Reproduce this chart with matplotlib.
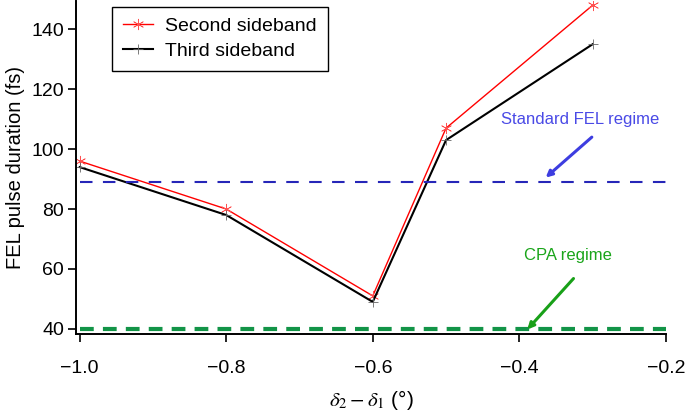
import matplotlib
matplotlib.use('Agg')
from matplotlib import pyplot as plt

plt.rcParams['font.family'] = ['Liberation Sans', 'DejaVu Sans']
plt.rcParams['mathtext.fontset'] = 'stix'

# data
delta_diff = [-1.0, -0.8, -0.6, -0.5, -0.3]
second_sideband = [96, 80, 51, 107, 148]
third_sideband = [94, 78, 49, 103, 135]
standard_fel = 89
cpa_level = 40
xticks = [-1.0, -0.8, -0.6, -0.4, -0.2]
yticks = [40, 60, 80, 100, 120, 140]

fig = plt.figure(figsize=(6.85, 4.19), dpi=100)
ax = fig.add_axes([0.111, 0.203, 0.861, 0.795])

ax.plot(delta_diff, second_sideband, color='red', lw=1.0,
        marker=(6, 2, 0), markersize=8, markeredgewidth=0.5,
        markeredgecolor='#ff5050', label='Second sideband')
ax.plot(delta_diff, third_sideband, color='black', lw=1.5,
        marker='+', markersize=7, markeredgewidth=0.6,
        markeredgecolor='#666666', label='Third sideband')

ax.plot([-1.0, -0.2], [standard_fel, standard_fel], color='#2626b8',
        lw=1.5, dashes=(6, 5))
ax.plot([-1.0, -0.2], [cpa_level, cpa_level], color='#129447',
        lw=3.0, dashes=(3.3, 2.2))

ax.annotate('', xy=(-0.364, 90.5), xytext=(-0.301, 104),
            arrowprops=dict(arrowstyle='-|>', color='#3d3de0', lw=2.2,
                            mutation_scale=9, shrinkA=0, shrinkB=0))
ax.text(-0.317, 110, 'Standard FEL regime', color='#4a4ae6', fontsize=12,
        ha='center', va='center')
ax.annotate('', xy=(-0.389, 39.8), xytext=(-0.326, 56.8),
            arrowprops=dict(arrowstyle='-|>', color='#18a018', lw=2.2,
                            mutation_scale=9, shrinkA=0, shrinkB=0))
ax.text(-0.334, 64.5, 'CPA regime', color='#1aa51a', fontsize=12,
        ha='center', va='center')

ax.set_xlim(-1.005, -0.2)
ax.set_ylim(38.3, 149.5)
ax.set_xticks(xticks)
ax.set_xticklabels(['\u22121.0', '\u22120.8', '\u22120.6', '\u22120.4', '\u22120.2'])
ax.set_yticks(yticks)
ax.tick_params(axis='both', labelsize=14, direction='out', length=5.5, width=1.2)
ax.tick_params(axis='x', pad=13.5)
ax.tick_params(axis='y', pad=3)

ax.spines['top'].set_visible(False)
ax.spines['right'].set_visible(False)
ax.spines['left'].set_linewidth(1.4)
ax.spines['bottom'].set_linewidth(1.4)

ax.set_xlabel(r'$\delta_2 - \delta_1$ (°)', fontsize=15, labelpad=8)
ax.set_ylabel('FEL pulse duration (fs)', fontsize=14.5, labelpad=5)

leg = ax.legend(loc='upper left', bbox_to_anchor=(0.061, 0.983), fontsize=14,
                fancybox=False, edgecolor='black', framealpha=1,
                handlelength=1.55, handletextpad=0.65, borderaxespad=0,
                borderpad=0.55, labelspacing=0.4)
leg.get_frame().set_linewidth(1.0)

fig.savefig('out.png', dpi=100)
